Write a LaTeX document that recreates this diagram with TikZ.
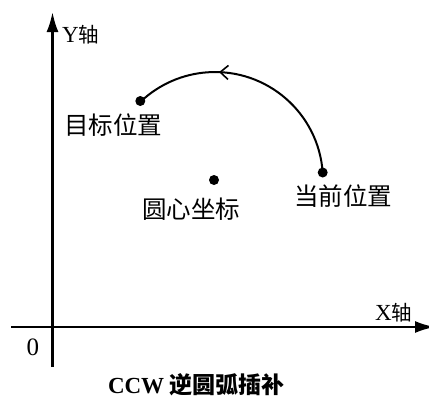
\documentclass[tikz,border=0pt]{standalone}
\usepackage{fontspec}
\setmainfont{Liberation Serif}
\newfontfamily\cjk{Noto Sans CJK SC}
\usetikzlibrary{arrows.meta,decorations.markings}
\tikzset{
  axis/.style={line width=2.4pt,-{Latex[length=20pt,width=12pt]}},
  pt/.style={circle,fill=black,inner sep=0pt,minimum size=10pt},
  lbl/.style={inner sep=0pt,font=\fontsize{24.5}{24.5}\selectfont\cjk},
  axlbl/.style={inner sep=0pt,font=\fontsize{23}{23}\selectfont},
  arcline/.style={line width=2pt,postaction={decorate},
    decoration={markings,mark=at position 0.65 with {\arrow{Straight Barb[length=8pt,width=14pt,line width=1.6pt]}}}}
}
\begin{document}
\begin{tikzpicture}[x=1pt,y=-1pt]
\useasboundingbox (0,0) rectangle (429,399);
\clip (0,0) rectangle (429,399);
\fill[white] (0,0) rectangle (429,399);
\coordinate (ybot) at (52.5,367);
\coordinate (ytop) at (52.5,12);
\coordinate (xleft) at (11,327);
\coordinate (xright) at (435,327);
\draw[axis] (ybot) -- (ytop);
\draw[axis] (xleft) -- (xright);
\node[axlbl,anchor=west] (ylab) at (62,35) {Y{\fontsize{20.5}{20.5}\selectfont\cjk 轴}};
\node[axlbl,anchor=west] (xlab) at (375,313) {X{\fontsize{20.5}{20.5}\selectfont\cjk 轴}};
\node[inner sep=0pt,font=\fontsize{25}{25}\selectfont] (orig) at (33,347) {0};
\coordinate (ctr) at (214,180);
\node[pt] (cdot) at (ctr) {};
\node[pt] (cur) at (322.7,172.5) {};
\node[pt] (tgt) at (140.3,101) {};
\draw[arcline] (cur.center) arc[start angle=-4,end angle=-133,radius=108];
\node[lbl] (tgtlab) at (113,125) {目标位置};
\node[lbl] (ctrlab) at (191,209) {圆心坐标};
\node[lbl] (curlab) at (343,196) {当前位置};
\node[inner sep=0pt,font=\fontsize{23}{23}\selectfont\bfseries] (cap) at (196.5,384.5) {CCW {\cjk 逆圆弧插补}};
\end{tikzpicture}
\end{document}
